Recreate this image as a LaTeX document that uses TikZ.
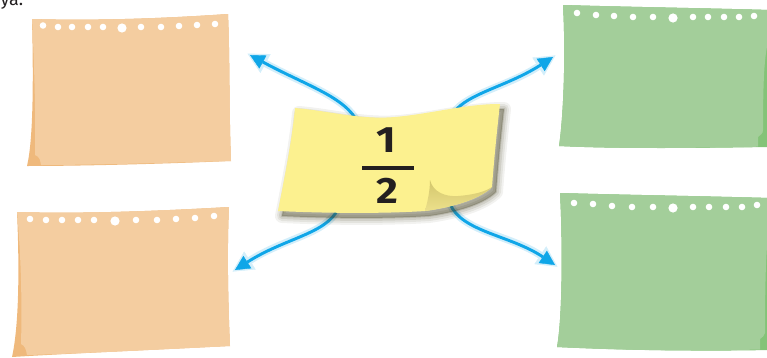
\documentclass[tikz,border=0pt]{standalone}
\usepackage{fontspec}
\setmainfont{Fira Sans}
\usetikzlibrary{arrows.meta}
\definecolor{orangeP}{HTML}{F4CDA0}
\definecolor{orangeD}{HTML}{EFB97C}
\definecolor{greenP}{HTML}{A3CE9A}
\definecolor{greenD}{HTML}{84C378}
\definecolor{stickY}{HTML}{FCF18F}
\definecolor{curlA}{HTML}{D3C66C}
\definecolor{curlB}{HTML}{ECE08B}
\definecolor{shadowc}{HTML}{4A4728}
\definecolor{arrowB}{HTML}{0FA6E8}
\definecolor{glowB}{HTML}{D3EEFA}
\definecolor{inkc}{HTML}{231F20}
\begin{document}
\begin{tikzpicture}[x=0.75pt,y=-0.75pt,
  hole/.style={fill=white},
  glowline/.style={draw=glowB, line width=5.5pt, line cap=round,
    -{Triangle[length=15.5pt,width=16pt,line width=0.3pt]}},
  blueline/.style={draw=arrowB, line width=2.2pt,
    -{Triangle[length=11pt,width=11pt,line width=0.3pt]}},
  digit/.style={text=inkc, font=\fontsize{27.5}{30}\selectfont\bfseries, inner sep=0pt}]
\useasboundingbox (0,0) rectangle (767,357);

% partial text at the top
\node[anchor=base east, text=inkc, font=\fontsize{13.5}{15}\selectfont, inner sep=0pt] (ya) at (23.5,5.5) {ya.};

% ---------- top-left orange sheet
\fill[orangeD] (32,19) .. controls (100,21) and (170,18) .. (228,14)
  .. controls (230,60) and (229,110) .. (231,161)
  .. controls (160,164) and (80,166) .. (27,166)
  .. controls (32,145) and (34,100) .. (32,19) -- cycle;
\fill[orangeP] (32,19) .. controls (100,21) and (170,18) .. (228,14)
  .. controls (230,60) and (229,110) .. (231,161)
  .. controls (160,163) and (90,165) .. (41,165)
  .. controls (40,160) and (40,157) .. (35,155)
  .. controls (35.5,120) and (35,80) .. (32,19) -- cycle;
\foreach \x/\y in {43/25.5,58/27,72/27,88/27,103/27,141/27,161/27,179/26,197/25,215/24}
  \fill[hole] (\x,\y) circle (3.3);
\fill[hole] (122,28) circle (4.6);

% ---------- bottom-left orange sheet
\fill[orangeD] (17,212) .. controls (80,214) and (160,211) .. (229,207)
  .. controls (227,250) and (228,300) .. (230,346)
  .. controls (150,350) and (60,354) .. (12,357)
  .. controls (18,330) and (20,280) .. (17,212) -- cycle;
\fill[orangeP] (17,212) .. controls (80,214) and (160,211) .. (229,207)
  .. controls (227,250) and (228,300) .. (230,346)
  .. controls (150,350) and (70,354) .. (27,355)
  .. controls (26,349) and (25,346) .. (21,344)
  .. controls (22,310) and (21.5,260) .. (17,212) -- cycle;
\foreach \x/\y in {30/219,46/220,62/220,78/220,94/220,136/220,157/220,176/219,195/218,214/216}
  \fill[hole] (\x,\y) circle (3.3);
\fill[hole] (115,221) circle (4.6);

% ---------- top-right green sheet
\fill[greenD] (563,5) .. controls (630,7) and (700,8) .. (770,10) -- (770,147)
  .. controls (700,148) and (620,149) .. (559,146)
  .. controls (563,120) and (566,60) .. (563,5) -- cycle;
\fill[greenP] (563,5) .. controls (630,7) and (700,8) .. (770,10) -- (770,35)
  .. controls (765,50) and (763,70) .. (763,130)
  .. controls (763,134) and (760,135) .. (758,137) -- (758,146.7)
  .. controls (700,148) and (620,149) .. (559,146)
  .. controls (563,120) and (566,60) .. (563,5) -- cycle;
\foreach \x/\y in {577/13,596/15,614/16,633/17,653/17,693/17,708/17,724/17,739/17,754/16}
  \fill[hole] (\x,\y) circle (3.3);
\fill[hole] (673,18) circle (4.6);

% ---------- bottom-right green sheet
\fill[greenD] (560,193) .. controls (630,195) and (700,196) .. (770,198) -- (770,350)
  .. controls (720,351) and (640,351) .. (557,347)
  .. controls (562,320) and (563,250) .. (560,193) -- cycle;
\fill[greenP] (560,193) .. controls (630,195) and (700,196) .. (770,198) -- (770,220)
  .. controls (767,240) and (765,260) .. (765,333)
  .. controls (765,336) and (762,337) .. (760,339) -- (760,349.5)
  .. controls (700,351) and (640,351) .. (557,347)
  .. controls (562,320) and (563,250) .. (560,193) -- cycle;
\foreach \x/\y in {574/203,593/204,612/206,632/207,653/207,693/207,709/207,726/207,742/207,757/205}
  \fill[hole] (\x,\y) circle (3.3);
\fill[hole] (673,208) circle (4.6);

% ---------- arrows
\coordinate (tlS) at (358,123); \coordinate (tlT) at (250,55); \coordinate (tlG) at (247.4,53.6);
\coordinate (trS) at (451,117); \coordinate (trT) at (553,57); \coordinate (trG) at (555.5,55.4);
\coordinate (blS) at (338,209); \coordinate (blT) at (235,270); \coordinate (blG) at (232.5,271.6);
\coordinate (brS) at (450,204); \coordinate (brT) at (555,265); \coordinate (brG) at (557.5,266.7);

\draw[glowline] (tlS) .. controls (346,97) and (305,85) .. (tlG);
\draw[glowline] (trS) .. controls (462,94) and (505,88) .. (trG);
\draw[glowline] (blS) .. controls (326,234) and (285,238) .. (blG);
\draw[glowline] (brS) .. controls (462,232) and (510,235) .. (brG);
\draw[blueline] (tlS) .. controls (346,97) and (305,85) .. (tlT);
\draw[blueline] (trS) .. controls (462,94) and (505,88) .. (trT);
\draw[blueline] (blS) .. controls (326,234) and (285,238) .. (blT);
\draw[blueline] (brS) .. controls (462,232) and (510,235) .. (brT);

% ---------- sticky note
\def\stickypath{(295,108) .. controls (330,111) and (360,120) .. (395,117)
  .. controls (430,114) and (465,104) .. (500,104)
  .. controls (497,130) and (494,160) .. (492,187)
  .. controls (482,197) and (460,206) .. (425,211)
  .. controls (380,214) and (320,213) .. (278,211)
  .. controls (285,175) and (292,140) .. (295,108) -- cycle}
\foreach \w/\o in {14/0.07,10/0.09,6/0.12,2/0.16}
  \filldraw[fill=shadowc, draw=shadowc, opacity=\o, line width=\w*0.75pt, line join=round, shift={(4,5)}] \stickypath;
\fill[stickY] \stickypath;
\shade[top color=curlA, bottom color=curlB] (430,180)
  .. controls (433,192) and (445,197) .. (458,196)
  .. controls (472,195) and (485,192) .. (492,187)
  .. controls (482,197) and (460,206) .. (425,211)
  .. controls (428,200) and (430,190) .. (430,180) -- cycle;

% fraction
\node[digit] (one) at (386.3,140.5) {\scalebox{1.15}[1]{1}};
\node[fill=inkc, minimum width=39pt, minimum height=3.4pt, inner sep=0pt] (bar) at (388,168) {};
\node[digit] (two) at (387.5,191) {\scalebox{1.15}[1]{2}};
\end{tikzpicture}
\end{document}
